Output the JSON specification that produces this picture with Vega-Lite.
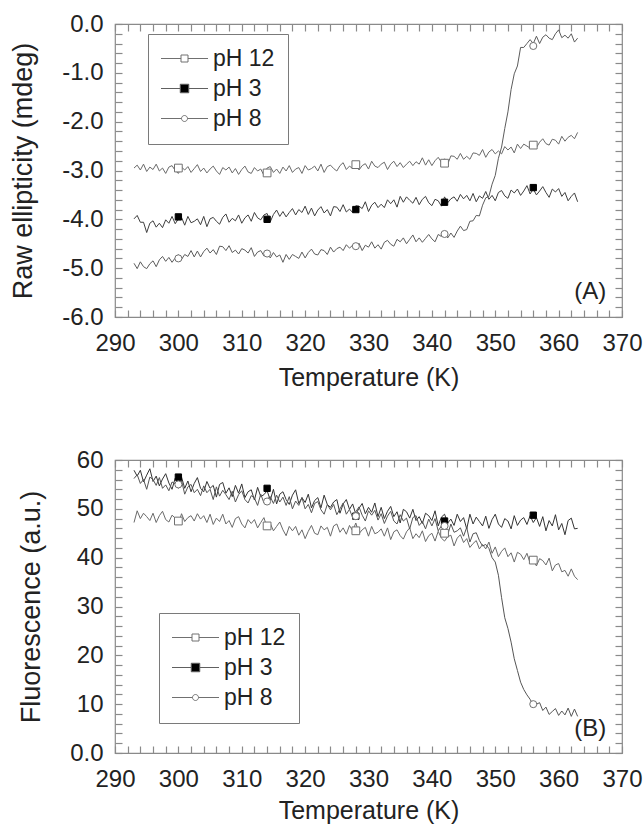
{
"$schema":"https://vega.github.io/schema/vega-lite/v6.json",
"padding":{"left":9,"top":11,"right":2,"bottom":0},
"spacing":56,
"config":{
"font":"Liberation Sans",
"view":{"stroke":"#8a8a8a","strokeWidth":1.2},
"axis":{"grid":false,"domain":false,"labelFont":"Liberation Sans","labelFontSize":24,"labelColor":"#222","titleFont":"Liberation Sans","titleFontSize":25,"titleFontWeight":"normal","titleColor":"#222","tickColor":"#8a8a8a","tickWidth":1.2,"labelOverlap":false,"labelFlush":false},
"axisY":{"titleFontSize":27},
"legend":{"labelFont":"Liberation Sans","labelFontSize":23,"labelColor":"#222","strokeColor":"#7a7a7a","fillColor":"#ffffff","padding":13,"rowPadding":6,"labelOffset":17,"symbolOffset":12}
},
"resolve":{"scale":{"shape":"independent","fill":"independent","stroke":"independent","size":"independent","color":"independent"},"legend":{"shape":"independent","fill":"independent","stroke":"independent"}},
"datasets":{
"A":[
{"s":"pH 12","t":293,"v":-2.95},{"s":"pH 12","t":293.5,"v":-2.89},{"s":"pH 12","t":294,"v":-2.99},{"s":"pH 12","t":294.5,"v":-2.87},{"s":"pH 12","t":295,"v":-3.02},{"s":"pH 12","t":295.5,"v":-2.93},{"s":"pH 12","t":296,"v":-2.98},{"s":"pH 12","t":296.5,"v":-2.87},{"s":"pH 12","t":297,"v":-3.01},{"s":"pH 12","t":297.5,"v":-2.95},
{"s":"pH 12","t":298,"v":-3.06},{"s":"pH 12","t":298.5,"v":-2.93},{"s":"pH 12","t":299,"v":-2.90},{"s":"pH 12","t":299.5,"v":-3.00},{"s":"pH 12","t":300,"v":-3.06},{"s":"pH 12","t":300.5,"v":-2.93},{"s":"pH 12","t":301,"v":-2.99},{"s":"pH 12","t":301.5,"v":-2.92},{"s":"pH 12","t":302,"v":-3.04},{"s":"pH 12","t":302.5,"v":-2.96},
{"s":"pH 12","t":303,"v":-2.88},{"s":"pH 12","t":303.5,"v":-3.02},{"s":"pH 12","t":304,"v":-2.95},{"s":"pH 12","t":304.5,"v":-3.05},{"s":"pH 12","t":305,"v":-2.97},{"s":"pH 12","t":305.5,"v":-2.91},{"s":"pH 12","t":306,"v":-3.01},{"s":"pH 12","t":306.5,"v":-3.08},{"s":"pH 12","t":307,"v":-2.94},{"s":"pH 12","t":307.5,"v":-2.99},
{"s":"pH 12","t":308,"v":-2.93},{"s":"pH 12","t":308.5,"v":-3.05},{"s":"pH 12","t":309,"v":-2.96},{"s":"pH 12","t":309.5,"v":-3.08},{"s":"pH 12","t":310,"v":-2.98},{"s":"pH 12","t":310.5,"v":-2.91},{"s":"pH 12","t":311,"v":-3.03},{"s":"pH 12","t":311.5,"v":-3.06},{"s":"pH 12","t":312,"v":-2.94},{"s":"pH 12","t":312.5,"v":-3.01},
{"s":"pH 12","t":313,"v":-2.97},{"s":"pH 12","t":313.5,"v":-3.10},{"s":"pH 12","t":314,"v":-2.95},{"s":"pH 12","t":314.5,"v":-2.92},{"s":"pH 12","t":315,"v":-3.04},{"s":"pH 12","t":315.5,"v":-2.97},{"s":"pH 12","t":316,"v":-3.06},{"s":"pH 12","t":316.5,"v":-2.93},{"s":"pH 12","t":317,"v":-3.01},{"s":"pH 12","t":317.5,"v":-2.90},
{"s":"pH 12","t":318,"v":-3.04},{"s":"pH 12","t":318.5,"v":-2.97},{"s":"pH 12","t":319,"v":-2.94},{"s":"pH 12","t":319.5,"v":-3.06},{"s":"pH 12","t":320,"v":-2.90},{"s":"pH 12","t":320.5,"v":-2.99},{"s":"pH 12","t":321,"v":-2.96},{"s":"pH 12","t":321.5,"v":-2.91},{"s":"pH 12","t":322,"v":-3.01},{"s":"pH 12","t":322.5,"v":-2.87},
{"s":"pH 12","t":323,"v":-3.04},{"s":"pH 12","t":323.5,"v":-2.92},{"s":"pH 12","t":324,"v":-2.89},{"s":"pH 12","t":324.5,"v":-2.96},{"s":"pH 12","t":325,"v":-3.01},{"s":"pH 12","t":325.5,"v":-2.90},{"s":"pH 12","t":326,"v":-2.84},{"s":"pH 12","t":326.5,"v":-2.98},{"s":"pH 12","t":327,"v":-2.91},{"s":"pH 12","t":327.5,"v":-2.96},
{"s":"pH 12","t":328,"v":-2.85},{"s":"pH 12","t":328.5,"v":-2.99},{"s":"pH 12","t":329,"v":-2.90},{"s":"pH 12","t":329.5,"v":-2.86},{"s":"pH 12","t":330,"v":-2.97},{"s":"pH 12","t":330.5,"v":-2.81},{"s":"pH 12","t":331,"v":-2.91},{"s":"pH 12","t":331.5,"v":-2.94},{"s":"pH 12","t":332,"v":-2.87},{"s":"pH 12","t":332.5,"v":-2.83},
{"s":"pH 12","t":333,"v":-2.98},{"s":"pH 12","t":333.5,"v":-2.87},{"s":"pH 12","t":334,"v":-2.81},{"s":"pH 12","t":334.5,"v":-2.92},{"s":"pH 12","t":335,"v":-2.84},{"s":"pH 12","t":335.5,"v":-2.94},{"s":"pH 12","t":336,"v":-2.87},{"s":"pH 12","t":336.5,"v":-2.81},{"s":"pH 12","t":337,"v":-2.90},{"s":"pH 12","t":337.5,"v":-2.82},
{"s":"pH 12","t":338,"v":-2.87},{"s":"pH 12","t":338.5,"v":-2.74},{"s":"pH 12","t":339,"v":-2.89},{"s":"pH 12","t":339.5,"v":-2.78},{"s":"pH 12","t":340,"v":-2.90},{"s":"pH 12","t":340.5,"v":-2.80},{"s":"pH 12","t":341,"v":-2.73},{"s":"pH 12","t":341.5,"v":-2.83},{"s":"pH 12","t":342,"v":-2.76},{"s":"pH 12","t":342.5,"v":-2.87},
{"s":"pH 12","t":343,"v":-2.70},{"s":"pH 12","t":343.5,"v":-2.71},{"s":"pH 12","t":344,"v":-2.77},{"s":"pH 12","t":344.5,"v":-2.65},{"s":"pH 12","t":345,"v":-2.77},{"s":"pH 12","t":345.5,"v":-2.71},{"s":"pH 12","t":346,"v":-2.77},{"s":"pH 12","t":346.5,"v":-2.64},{"s":"pH 12","t":347,"v":-2.65},{"s":"pH 12","t":347.5,"v":-2.69},
{"s":"pH 12","t":348,"v":-2.57},{"s":"pH 12","t":348.5,"v":-2.73},{"s":"pH 12","t":349,"v":-2.62},{"s":"pH 12","t":349.5,"v":-2.57},{"s":"pH 12","t":350,"v":-2.66},{"s":"pH 12","t":350.5,"v":-2.60},{"s":"pH 12","t":351,"v":-2.66},{"s":"pH 12","t":351.5,"v":-2.51},{"s":"pH 12","t":352,"v":-2.58},{"s":"pH 12","t":352.5,"v":-2.52},
{"s":"pH 12","t":353,"v":-2.64},{"s":"pH 12","t":353.5,"v":-2.46},{"s":"pH 12","t":354,"v":-2.55},{"s":"pH 12","t":354.5,"v":-2.46},{"s":"pH 12","t":355,"v":-2.50},{"s":"pH 12","t":355.5,"v":-2.54},{"s":"pH 12","t":356,"v":-2.42},{"s":"pH 12","t":356.5,"v":-2.53},{"s":"pH 12","t":357,"v":-2.42},{"s":"pH 12","t":357.5,"v":-2.35},
{"s":"pH 12","t":358,"v":-2.45},{"s":"pH 12","t":358.5,"v":-2.48},{"s":"pH 12","t":359,"v":-2.36},{"s":"pH 12","t":359.5,"v":-2.38},{"s":"pH 12","t":360,"v":-2.46},{"s":"pH 12","t":360.5,"v":-2.30},{"s":"pH 12","t":361,"v":-2.40},{"s":"pH 12","t":361.5,"v":-2.32},{"s":"pH 12","t":362,"v":-2.28},{"s":"pH 12","t":362.5,"v":-2.35},
{"s":"pH 12","t":363,"v":-2.22},
{"s":"pH 3","t":293,"v":-3.99},{"s":"pH 3","t":293.5,"v":-3.92},{"s":"pH 3","t":294,"v":-4.06},{"s":"pH 3","t":294.5,"v":-4.06},{"s":"pH 3","t":295,"v":-4.27},{"s":"pH 3","t":295.5,"v":-4.08},{"s":"pH 3","t":296,"v":-4.03},{"s":"pH 3","t":296.5,"v":-4.16},{"s":"pH 3","t":297,"v":-4.08},{"s":"pH 3","t":297.5,"v":-4.17},
{"s":"pH 3","t":298,"v":-4.01},{"s":"pH 3","t":298.5,"v":-4.08},{"s":"pH 3","t":299,"v":-3.94},{"s":"pH 3","t":299.5,"v":-4.09},{"s":"pH 3","t":300,"v":-3.99},{"s":"pH 3","t":300.5,"v":-3.96},{"s":"pH 3","t":301,"v":-4.12},{"s":"pH 3","t":301.5,"v":-3.94},{"s":"pH 3","t":302,"v":-4.07},{"s":"pH 3","t":302.5,"v":-4.04},
{"s":"pH 3","t":303,"v":-3.99},{"s":"pH 3","t":303.5,"v":-4.11},{"s":"pH 3","t":304,"v":-3.94},{"s":"pH 3","t":304.5,"v":-4.15},{"s":"pH 3","t":305,"v":-3.99},{"s":"pH 3","t":305.5,"v":-3.96},{"s":"pH 3","t":306,"v":-4.04},{"s":"pH 3","t":306.5,"v":-4.10},{"s":"pH 3","t":307,"v":-3.96},{"s":"pH 3","t":307.5,"v":-3.89},
{"s":"pH 3","t":308,"v":-4.06},{"s":"pH 3","t":308.5,"v":-3.98},{"s":"pH 3","t":309,"v":-4.03},{"s":"pH 3","t":309.5,"v":-3.91},{"s":"pH 3","t":310,"v":-4.08},{"s":"pH 3","t":310.5,"v":-3.97},{"s":"pH 3","t":311,"v":-3.91},{"s":"pH 3","t":311.5,"v":-4.04},{"s":"pH 3","t":312,"v":-3.86},{"s":"pH 3","t":312.5,"v":-3.97},
{"s":"pH 3","t":313,"v":-4.01},{"s":"pH 3","t":313.5,"v":-3.91},{"s":"pH 3","t":314,"v":-3.88},{"s":"pH 3","t":314.5,"v":-4.05},{"s":"pH 3","t":315,"v":-3.90},{"s":"pH 3","t":315.5,"v":-3.81},{"s":"pH 3","t":316,"v":-3.94},{"s":"pH 3","t":316.5,"v":-3.84},{"s":"pH 3","t":317,"v":-3.95},{"s":"pH 3","t":317.5,"v":-3.86},
{"s":"pH 3","t":318,"v":-3.78},{"s":"pH 3","t":318.5,"v":-3.91},{"s":"pH 3","t":319,"v":-3.80},{"s":"pH 3","t":319.5,"v":-3.86},{"s":"pH 3","t":320,"v":-3.73},{"s":"pH 3","t":320.5,"v":-3.90},{"s":"pH 3","t":321,"v":-3.77},{"s":"pH 3","t":321.5,"v":-3.93},{"s":"pH 3","t":322,"v":-3.81},{"s":"pH 3","t":322.5,"v":-3.74},
{"s":"pH 3","t":323,"v":-3.87},{"s":"pH 3","t":323.5,"v":-3.80},{"s":"pH 3","t":324,"v":-3.93},{"s":"pH 3","t":324.5,"v":-3.74},{"s":"pH 3","t":325,"v":-3.75},{"s":"pH 3","t":325.5,"v":-3.84},{"s":"pH 3","t":326,"v":-3.70},{"s":"pH 3","t":326.5,"v":-3.85},{"s":"pH 3","t":327,"v":-3.79},{"s":"pH 3","t":327.5,"v":-3.86},
{"s":"pH 3","t":328,"v":-3.72},{"s":"pH 3","t":328.5,"v":-3.73},{"s":"pH 3","t":329,"v":-3.78},{"s":"pH 3","t":329.5,"v":-3.64},{"s":"pH 3","t":330,"v":-3.84},{"s":"pH 3","t":330.5,"v":-3.71},{"s":"pH 3","t":331,"v":-3.65},{"s":"pH 3","t":331.5,"v":-3.76},{"s":"pH 3","t":332,"v":-3.69},{"s":"pH 3","t":332.5,"v":-3.76},
{"s":"pH 3","t":333,"v":-3.60},{"s":"pH 3","t":333.5,"v":-3.68},{"s":"pH 3","t":334,"v":-3.60},{"s":"pH 3","t":334.5,"v":-3.75},{"s":"pH 3","t":335,"v":-3.53},{"s":"pH 3","t":335.5,"v":-3.65},{"s":"pH 3","t":336,"v":-3.54},{"s":"pH 3","t":336.5,"v":-3.61},{"s":"pH 3","t":337,"v":-3.67},{"s":"pH 3","t":337.5,"v":-3.55},
{"s":"pH 3","t":338,"v":-3.70},{"s":"pH 3","t":338.5,"v":-3.59},{"s":"pH 3","t":339,"v":-3.53},{"s":"pH 3","t":339.5,"v":-3.66},{"s":"pH 3","t":340,"v":-3.72},{"s":"pH 3","t":340.5,"v":-3.59},{"s":"pH 3","t":341,"v":-3.62},{"s":"pH 3","t":341.5,"v":-3.73},{"s":"pH 3","t":342,"v":-3.54},{"s":"pH 3","t":342.5,"v":-3.66},
{"s":"pH 3","t":343,"v":-3.58},{"s":"pH 3","t":343.5,"v":-3.54},{"s":"pH 3","t":344,"v":-3.63},{"s":"pH 3","t":344.5,"v":-3.49},{"s":"pH 3","t":345,"v":-3.58},{"s":"pH 3","t":345.5,"v":-3.51},{"s":"pH 3","t":346,"v":-3.62},{"s":"pH 3","t":346.5,"v":-3.47},{"s":"pH 3","t":347,"v":-3.64},{"s":"pH 3","t":347.5,"v":-3.52},
{"s":"pH 3","t":348,"v":-3.57},{"s":"pH 3","t":348.5,"v":-3.43},{"s":"pH 3","t":349,"v":-3.59},{"s":"pH 3","t":349.5,"v":-3.51},{"s":"pH 3","t":350,"v":-3.62},{"s":"pH 3","t":350.5,"v":-3.45},{"s":"pH 3","t":351,"v":-3.41},{"s":"pH 3","t":351.5,"v":-3.52},{"s":"pH 3","t":352,"v":-3.57},{"s":"pH 3","t":352.5,"v":-3.40},
{"s":"pH 3","t":353,"v":-3.46},{"s":"pH 3","t":353.5,"v":-3.38},{"s":"pH 3","t":354,"v":-3.51},{"s":"pH 3","t":354.5,"v":-3.42},{"s":"pH 3","t":355,"v":-3.31},{"s":"pH 3","t":355.5,"v":-3.48},{"s":"pH 3","t":356,"v":-3.38},{"s":"pH 3","t":356.5,"v":-3.50},{"s":"pH 3","t":357,"v":-3.42},{"s":"pH 3","t":357.5,"v":-3.33},
{"s":"pH 3","t":358,"v":-3.45},{"s":"pH 3","t":358.5,"v":-3.55},{"s":"pH 3","t":359,"v":-3.38},{"s":"pH 3","t":359.5,"v":-3.44},{"s":"pH 3","t":360,"v":-3.37},{"s":"pH 3","t":360.5,"v":-3.53},{"s":"pH 3","t":361,"v":-3.45},{"s":"pH 3","t":361.5,"v":-3.62},{"s":"pH 3","t":362,"v":-3.53},{"s":"pH 3","t":362.5,"v":-3.46},
{"s":"pH 3","t":363,"v":-3.64},
{"s":"pH 8","t":293,"v":-4.90},{"s":"pH 8","t":293.5,"v":-5.01},{"s":"pH 8","t":294,"v":-4.87},{"s":"pH 8","t":294.5,"v":-4.97},{"s":"pH 8","t":295,"v":-5.01},{"s":"pH 8","t":295.5,"v":-4.91},{"s":"pH 8","t":296,"v":-4.85},{"s":"pH 8","t":296.5,"v":-4.97},{"s":"pH 8","t":297,"v":-4.83},{"s":"pH 8","t":297.5,"v":-4.76},
{"s":"pH 8","t":298,"v":-4.86},{"s":"pH 8","t":298.5,"v":-4.78},{"s":"pH 8","t":299,"v":-4.88},{"s":"pH 8","t":299.5,"v":-4.79},{"s":"pH 8","t":300,"v":-4.72},{"s":"pH 8","t":300.5,"v":-4.82},{"s":"pH 8","t":301,"v":-4.72},{"s":"pH 8","t":301.5,"v":-4.76},{"s":"pH 8","t":302,"v":-4.64},{"s":"pH 8","t":302.5,"v":-4.77},
{"s":"pH 8","t":303,"v":-4.65},{"s":"pH 8","t":303.5,"v":-4.77},{"s":"pH 8","t":304,"v":-4.66},{"s":"pH 8","t":304.5,"v":-4.59},{"s":"pH 8","t":305,"v":-4.69},{"s":"pH 8","t":305.5,"v":-4.62},{"s":"pH 8","t":306,"v":-4.72},{"s":"pH 8","t":306.5,"v":-4.55},{"s":"pH 8","t":307,"v":-4.56},{"s":"pH 8","t":307.5,"v":-4.64},
{"s":"pH 8","t":308,"v":-4.54},{"s":"pH 8","t":308.5,"v":-4.68},{"s":"pH 8","t":309,"v":-4.63},{"s":"pH 8","t":309.5,"v":-4.71},{"s":"pH 8","t":310,"v":-4.60},{"s":"pH 8","t":310.5,"v":-4.63},{"s":"pH 8","t":311,"v":-4.69},{"s":"pH 8","t":311.5,"v":-4.58},{"s":"pH 8","t":312,"v":-4.76},{"s":"pH 8","t":312.5,"v":-4.67},
{"s":"pH 8","t":313,"v":-4.64},{"s":"pH 8","t":313.5,"v":-4.75},{"s":"pH 8","t":314,"v":-4.71},{"s":"pH 8","t":314.5,"v":-4.79},{"s":"pH 8","t":315,"v":-4.68},{"s":"pH 8","t":315.5,"v":-4.77},{"s":"pH 8","t":316,"v":-4.73},{"s":"pH 8","t":316.5,"v":-4.88},{"s":"pH 8","t":317,"v":-4.72},{"s":"pH 8","t":317.5,"v":-4.82},
{"s":"pH 8","t":318,"v":-4.72},{"s":"pH 8","t":318.5,"v":-4.76},{"s":"pH 8","t":319,"v":-4.80},{"s":"pH 8","t":319.5,"v":-4.67},{"s":"pH 8","t":320,"v":-4.79},{"s":"pH 8","t":320.5,"v":-4.68},{"s":"pH 8","t":321,"v":-4.61},{"s":"pH 8","t":321.5,"v":-4.71},{"s":"pH 8","t":322,"v":-4.73},{"s":"pH 8","t":322.5,"v":-4.62},
{"s":"pH 8","t":323,"v":-4.64},{"s":"pH 8","t":323.5,"v":-4.72},{"s":"pH 8","t":324,"v":-4.57},{"s":"pH 8","t":324.5,"v":-4.67},{"s":"pH 8","t":325,"v":-4.60},{"s":"pH 8","t":325.5,"v":-4.57},{"s":"pH 8","t":326,"v":-4.64},{"s":"pH 8","t":326.5,"v":-4.52},{"s":"pH 8","t":327,"v":-4.59},{"s":"pH 8","t":327.5,"v":-4.53},
{"s":"pH 8","t":328,"v":-4.62},{"s":"pH 8","t":328.5,"v":-4.49},{"s":"pH 8","t":329,"v":-4.64},{"s":"pH 8","t":329.5,"v":-4.53},{"s":"pH 8","t":330,"v":-4.57},{"s":"pH 8","t":330.5,"v":-4.46},{"s":"pH 8","t":331,"v":-4.59},{"s":"pH 8","t":331.5,"v":-4.52},{"s":"pH 8","t":332,"v":-4.61},{"s":"pH 8","t":332.5,"v":-4.47},
{"s":"pH 8","t":333,"v":-4.43},{"s":"pH 8","t":333.5,"v":-4.51},{"s":"pH 8","t":334,"v":-4.55},{"s":"pH 8","t":334.5,"v":-4.41},{"s":"pH 8","t":335,"v":-4.46},{"s":"pH 8","t":335.5,"v":-4.38},{"s":"pH 8","t":336,"v":-4.50},{"s":"pH 8","t":336.5,"v":-4.41},{"s":"pH 8","t":337,"v":-4.32},{"s":"pH 8","t":337.5,"v":-4.46},
{"s":"pH 8","t":338,"v":-4.38},{"s":"pH 8","t":338.5,"v":-4.47},{"s":"pH 8","t":339,"v":-4.39},{"s":"pH 8","t":339.5,"v":-4.31},{"s":"pH 8","t":340,"v":-4.40},{"s":"pH 8","t":340.5,"v":-4.46},{"s":"pH 8","t":341,"v":-4.31},{"s":"pH 8","t":341.5,"v":-4.35},{"s":"pH 8","t":342,"v":-4.27},{"s":"pH 8","t":342.5,"v":-4.38},
{"s":"pH 8","t":343,"v":-4.28},{"s":"pH 8","t":343.5,"v":-4.37},{"s":"pH 8","t":344,"v":-4.24},{"s":"pH 8","t":344.5,"v":-4.14},{"s":"pH 8","t":345,"v":-4.23},{"s":"pH 8","t":345.5,"v":-4.21},{"s":"pH 8","t":346,"v":-4.04},{"s":"pH 8","t":346.5,"v":-4.03},{"s":"pH 8","t":347,"v":-3.92},{"s":"pH 8","t":347.5,"v":-3.93},
{"s":"pH 8","t":348,"v":-3.71},{"s":"pH 8","t":348.5,"v":-3.56},{"s":"pH 8","t":349,"v":-3.53},{"s":"pH 8","t":349.5,"v":-3.28},{"s":"pH 8","t":350,"v":-3.10},{"s":"pH 8","t":350.5,"v":-2.75},{"s":"pH 8","t":351,"v":-2.52},{"s":"pH 8","t":351.5,"v":-2.14},{"s":"pH 8","t":352,"v":-1.80},{"s":"pH 8","t":352.5,"v":-1.34},
{"s":"pH 8","t":353,"v":-1.02},{"s":"pH 8","t":353.5,"v":-0.86},{"s":"pH 8","t":354,"v":-0.48},{"s":"pH 8","t":354.5,"v":-0.48},{"s":"pH 8","t":355,"v":-0.40},{"s":"pH 8","t":355.5,"v":-0.32},{"s":"pH 8","t":356,"v":-0.40},{"s":"pH 8","t":356.5,"v":-0.25},{"s":"pH 8","t":357,"v":-0.40},{"s":"pH 8","t":357.5,"v":-0.27},
{"s":"pH 8","t":358,"v":-0.22},{"s":"pH 8","t":358.5,"v":-0.29},{"s":"pH 8","t":359,"v":-0.32},{"s":"pH 8","t":359.5,"v":-0.20},{"s":"pH 8","t":360,"v":-0.12},{"s":"pH 8","t":360.5,"v":-0.28},{"s":"pH 8","t":361,"v":-0.23},{"s":"pH 8","t":361.5,"v":-0.29},{"s":"pH 8","t":362,"v":-0.20},{"s":"pH 8","t":362.5,"v":-0.37},
{"s":"pH 8","t":363,"v":-0.29}
],
"B":[
{"s":"pH 12","t":293,"v":47.2},{"s":"pH 12","t":293.5,"v":49.6},{"s":"pH 12","t":294,"v":48.0},{"s":"pH 12","t":294.5,"v":49.1},{"s":"pH 12","t":295,"v":48.4},{"s":"pH 12","t":295.5,"v":47.6},{"s":"pH 12","t":296,"v":49.1},{"s":"pH 12","t":296.5,"v":47.2},{"s":"pH 12","t":297,"v":48.6},{"s":"pH 12","t":297.5,"v":49.5},
{"s":"pH 12","t":298,"v":47.8},{"s":"pH 12","t":298.5,"v":47.3},{"s":"pH 12","t":299,"v":48.7},{"s":"pH 12","t":299.5,"v":48.1},{"s":"pH 12","t":300,"v":46.9},{"s":"pH 12","t":300.5,"v":49.0},{"s":"pH 12","t":301,"v":47.4},{"s":"pH 12","t":301.5,"v":48.2},{"s":"pH 12","t":302,"v":48.6},{"s":"pH 12","t":302.5,"v":47.5},
{"s":"pH 12","t":303,"v":49.0},{"s":"pH 12","t":303.5,"v":47.9},{"s":"pH 12","t":304,"v":48.6},{"s":"pH 12","t":304.5,"v":47.2},{"s":"pH 12","t":305,"v":48.9},{"s":"pH 12","t":305.5,"v":46.8},{"s":"pH 12","t":306,"v":48.1},{"s":"pH 12","t":306.5,"v":47.4},{"s":"pH 12","t":307,"v":48.9},{"s":"pH 12","t":307.5,"v":46.9},
{"s":"pH 12","t":308,"v":47.6},{"s":"pH 12","t":308.5,"v":46.2},{"s":"pH 12","t":309,"v":48.0},{"s":"pH 12","t":309.5,"v":48.4},{"s":"pH 12","t":310,"v":46.9},{"s":"pH 12","t":310.5,"v":46.1},{"s":"pH 12","t":311,"v":47.8},{"s":"pH 12","t":311.5,"v":47.0},{"s":"pH 12","t":312,"v":47.8},{"s":"pH 12","t":312.5,"v":46.1},
{"s":"pH 12","t":313,"v":47.2},{"s":"pH 12","t":313.5,"v":48.2},{"s":"pH 12","t":314,"v":46.1},{"s":"pH 12","t":314.5,"v":47.0},{"s":"pH 12","t":315,"v":45.5},{"s":"pH 12","t":315.5,"v":46.4},{"s":"pH 12","t":316,"v":47.3},{"s":"pH 12","t":316.5,"v":45.7},{"s":"pH 12","t":317,"v":44.5},{"s":"pH 12","t":317.5,"v":46.4},
{"s":"pH 12","t":318,"v":45.5},{"s":"pH 12","t":318.5,"v":46.4},{"s":"pH 12","t":319,"v":44.6},{"s":"pH 12","t":319.5,"v":45.7},{"s":"pH 12","t":320,"v":43.9},{"s":"pH 12","t":320.5,"v":45.4},{"s":"pH 12","t":321,"v":46.6},{"s":"pH 12","t":321.5,"v":45.0},{"s":"pH 12","t":322,"v":44.7},{"s":"pH 12","t":322.5,"v":46.5},
{"s":"pH 12","t":323,"v":45.7},{"s":"pH 12","t":323.5,"v":46.2},{"s":"pH 12","t":324,"v":44.4},{"s":"pH 12","t":324.5,"v":46.5},{"s":"pH 12","t":325,"v":46.9},{"s":"pH 12","t":325.5,"v":45.2},{"s":"pH 12","t":326,"v":46.1},{"s":"pH 12","t":326.5,"v":44.8},{"s":"pH 12","t":327,"v":46.6},{"s":"pH 12","t":327.5,"v":45.5},
{"s":"pH 12","t":328,"v":47.1},{"s":"pH 12","t":328.5,"v":44.9},{"s":"pH 12","t":329,"v":45.7},{"s":"pH 12","t":329.5,"v":46.2},{"s":"pH 12","t":330,"v":44.4},{"s":"pH 12","t":330.5,"v":46.4},{"s":"pH 12","t":331,"v":44.9},{"s":"pH 12","t":331.5,"v":45.2},{"s":"pH 12","t":332,"v":45.9},{"s":"pH 12","t":332.5,"v":44.4},
{"s":"pH 12","t":333,"v":46.1},{"s":"pH 12","t":333.5,"v":43.7},{"s":"pH 12","t":334,"v":45.3},{"s":"pH 12","t":334.5,"v":45.7},{"s":"pH 12","t":335,"v":44.5},{"s":"pH 12","t":335.5,"v":43.8},{"s":"pH 12","t":336,"v":45.3},{"s":"pH 12","t":336.5,"v":46.1},{"s":"pH 12","t":337,"v":43.9},{"s":"pH 12","t":337.5,"v":44.9},
{"s":"pH 12","t":338,"v":44.1},{"s":"pH 12","t":338.5,"v":45.5},{"s":"pH 12","t":339,"v":43.3},{"s":"pH 12","t":339.5,"v":44.5},{"s":"pH 12","t":340,"v":45.0},{"s":"pH 12","t":340.5,"v":43.4},{"s":"pH 12","t":341,"v":45.4},{"s":"pH 12","t":341.5,"v":44.0},{"s":"pH 12","t":342,"v":43.4},{"s":"pH 12","t":342.5,"v":44.3},
{"s":"pH 12","t":343,"v":44.6},{"s":"pH 12","t":343.5,"v":42.4},{"s":"pH 12","t":344,"v":44.0},{"s":"pH 12","t":344.5,"v":44.7},{"s":"pH 12","t":345,"v":43.1},{"s":"pH 12","t":345.5,"v":43.9},{"s":"pH 12","t":346,"v":42.1},{"s":"pH 12","t":346.5,"v":42.9},{"s":"pH 12","t":347,"v":43.5},{"s":"pH 12","t":347.5,"v":41.8},
{"s":"pH 12","t":348,"v":42.7},{"s":"pH 12","t":348.5,"v":41.8},{"s":"pH 12","t":349,"v":43.2},{"s":"pH 12","t":349.5,"v":40.9},{"s":"pH 12","t":350,"v":42.2},{"s":"pH 12","t":350.5,"v":40.2},{"s":"pH 12","t":351,"v":41.3},{"s":"pH 12","t":351.5,"v":42.0},{"s":"pH 12","t":352,"v":40.2},{"s":"pH 12","t":352.5,"v":41.0},
{"s":"pH 12","t":353,"v":39.1},{"s":"pH 12","t":353.5,"v":41.1},{"s":"pH 12","t":354,"v":40.7},{"s":"pH 12","t":354.5,"v":39.6},{"s":"pH 12","t":355,"v":40.9},{"s":"pH 12","t":355.5,"v":38.9},{"s":"pH 12","t":356,"v":39.5},{"s":"pH 12","t":356.5,"v":38.3},{"s":"pH 12","t":357,"v":39.8},{"s":"pH 12","t":357.5,"v":39.4},
{"s":"pH 12","t":358,"v":38.5},{"s":"pH 12","t":358.5,"v":39.9},{"s":"pH 12","t":359,"v":37.3},{"s":"pH 12","t":359.5,"v":38.5},{"s":"pH 12","t":360,"v":38.8},{"s":"pH 12","t":360.5,"v":37.1},{"s":"pH 12","t":361,"v":37.4},{"s":"pH 12","t":361.5,"v":36.2},{"s":"pH 12","t":362,"v":37.7},{"s":"pH 12","t":362.5,"v":36.2},
{"s":"pH 12","t":363,"v":35.5},
{"s":"pH 3","t":293,"v":57.9},{"s":"pH 3","t":293.5,"v":56.7},{"s":"pH 3","t":294,"v":57.9},{"s":"pH 3","t":294.5,"v":55.5},{"s":"pH 3","t":295,"v":56.9},{"s":"pH 3","t":295.5,"v":58.2},{"s":"pH 3","t":296,"v":55.6},{"s":"pH 3","t":296.5,"v":56.7},{"s":"pH 3","t":297,"v":54.7},{"s":"pH 3","t":297.5,"v":56.1},
{"s":"pH 3","t":298,"v":57.2},{"s":"pH 3","t":298.5,"v":55.3},{"s":"pH 3","t":299,"v":54.0},{"s":"pH 3","t":299.5,"v":56.3},{"s":"pH 3","t":300,"v":55.3},{"s":"pH 3","t":300.5,"v":56.5},{"s":"pH 3","t":301,"v":54.2},{"s":"pH 3","t":301.5,"v":55.7},{"s":"pH 3","t":302,"v":53.5},{"s":"pH 3","t":302.5,"v":55.2},
{"s":"pH 3","t":303,"v":56.4},{"s":"pH 3","t":303.5,"v":54.2},{"s":"pH 3","t":304,"v":53.5},{"s":"pH 3","t":304.5,"v":55.6},{"s":"pH 3","t":305,"v":54.2},{"s":"pH 3","t":305.5,"v":54.8},{"s":"pH 3","t":306,"v":52.4},{"s":"pH 3","t":306.5,"v":55.0},{"s":"pH 3","t":307,"v":55.4},{"s":"pH 3","t":307.5,"v":53.2},
{"s":"pH 3","t":308,"v":54.3},{"s":"pH 3","t":308.5,"v":52.5},{"s":"pH 3","t":309,"v":54.8},{"s":"pH 3","t":309.5,"v":53.2},{"s":"pH 3","t":310,"v":55.1},{"s":"pH 3","t":310.5,"v":52.3},{"s":"pH 3","t":311,"v":53.5},{"s":"pH 3","t":311.5,"v":53.9},{"s":"pH 3","t":312,"v":51.8},{"s":"pH 3","t":312.5,"v":54.4},
{"s":"pH 3","t":313,"v":52.5},{"s":"pH 3","t":313.5,"v":52.9},{"s":"pH 3","t":314,"v":53.7},{"s":"pH 3","t":314.5,"v":51.8},{"s":"pH 3","t":315,"v":54.0},{"s":"pH 3","t":315.5,"v":51.0},{"s":"pH 3","t":316,"v":53.0},{"s":"pH 3","t":316.5,"v":53.5},{"s":"pH 3","t":317,"v":51.9},{"s":"pH 3","t":317.5,"v":50.9},
{"s":"pH 3","t":318,"v":52.8},{"s":"pH 3","t":318.5,"v":53.9},{"s":"pH 3","t":319,"v":51.1},{"s":"pH 3","t":319.5,"v":52.3},{"s":"pH 3","t":320,"v":51.3},{"s":"pH 3","t":320.5,"v":53.0},{"s":"pH 3","t":321,"v":50.2},{"s":"pH 3","t":321.5,"v":51.7},{"s":"pH 3","t":322,"v":52.3},{"s":"pH 3","t":322.5,"v":50.2},
{"s":"pH 3","t":323,"v":52.8},{"s":"pH 3","t":323.5,"v":50.9},{"s":"pH 3","t":324,"v":50.3},{"s":"pH 3","t":324.5,"v":51.4},{"s":"pH 3","t":325,"v":51.9},{"s":"pH 3","t":325.5,"v":49.1},{"s":"pH 3","t":326,"v":51.0},{"s":"pH 3","t":326.5,"v":51.9},{"s":"pH 3","t":327,"v":49.9},{"s":"pH 3","t":327.5,"v":51.0},
{"s":"pH 3","t":328,"v":48.9},{"s":"pH 3","t":328.5,"v":50.1},{"s":"pH 3","t":329,"v":51.1},{"s":"pH 3","t":329.5,"v":49.0},{"s":"pH 3","t":330,"v":50.3},{"s":"pH 3","t":330.5,"v":49.3},{"s":"pH 3","t":331,"v":51.2},{"s":"pH 3","t":331.5,"v":48.4},{"s":"pH 3","t":332,"v":50.3},{"s":"pH 3","t":332.5,"v":48.0},
{"s":"pH 3","t":333,"v":49.5},{"s":"pH 3","t":333.5,"v":50.5},{"s":"pH 3","t":334,"v":48.4},{"s":"pH 3","t":334.5,"v":49.4},{"s":"pH 3","t":335,"v":47.1},{"s":"pH 3","t":335.5,"v":49.9},{"s":"pH 3","t":336,"v":49.4},{"s":"pH 3","t":336.5,"v":48.1},{"s":"pH 3","t":337,"v":49.9},{"s":"pH 3","t":337.5,"v":47.6},
{"s":"pH 3","t":338,"v":48.4},{"s":"pH 3","t":338.5,"v":47.0},{"s":"pH 3","t":339,"v":49.1},{"s":"pH 3","t":339.5,"v":48.6},{"s":"pH 3","t":340,"v":47.6},{"s":"pH 3","t":340.5,"v":49.6},{"s":"pH 3","t":341,"v":46.5},{"s":"pH 3","t":341.5,"v":48.3},{"s":"pH 3","t":342,"v":48.9},{"s":"pH 3","t":342.5,"v":47.1},
{"s":"pH 3","t":343,"v":47.9},{"s":"pH 3","t":343.5,"v":46.6},{"s":"pH 3","t":344,"v":48.9},{"s":"pH 3","t":344.5,"v":47.4},{"s":"pH 3","t":345,"v":48.2},{"s":"pH 3","t":345.5,"v":45.9},{"s":"pH 3","t":346,"v":48.9},{"s":"pH 3","t":346.5,"v":46.9},{"s":"pH 3","t":347,"v":48.3},{"s":"pH 3","t":347.5,"v":47.4},
{"s":"pH 3","t":348,"v":46.5},{"s":"pH 3","t":348.5,"v":48.5},{"s":"pH 3","t":349,"v":46.0},{"s":"pH 3","t":349.5,"v":47.8},{"s":"pH 3","t":350,"v":48.9},{"s":"pH 3","t":350.5,"v":46.9},{"s":"pH 3","t":351,"v":46.2},{"s":"pH 3","t":351.5,"v":48.0},{"s":"pH 3","t":352,"v":47.5},{"s":"pH 3","t":352.5,"v":45.9},
{"s":"pH 3","t":353,"v":48.6},{"s":"pH 3","t":353.5,"v":46.6},{"s":"pH 3","t":354,"v":47.7},{"s":"pH 3","t":354.5,"v":48.2},{"s":"pH 3","t":355,"v":46.8},{"s":"pH 3","t":355.5,"v":48.6},{"s":"pH 3","t":356,"v":47.2},{"s":"pH 3","t":356.5,"v":48.2},{"s":"pH 3","t":357,"v":46.4},{"s":"pH 3","t":357.5,"v":48.4},
{"s":"pH 3","t":358,"v":45.5},{"s":"pH 3","t":358.5,"v":47.6},{"s":"pH 3","t":359,"v":46.5},{"s":"pH 3","t":359.5,"v":48.8},{"s":"pH 3","t":360,"v":45.7},{"s":"pH 3","t":360.5,"v":47.0},{"s":"pH 3","t":361,"v":44.7},{"s":"pH 3","t":361.5,"v":47.6},{"s":"pH 3","t":362,"v":48.1},{"s":"pH 3","t":362.5,"v":45.9},
{"s":"pH 3","t":363,"v":46.0},
{"s":"pH 8","t":293,"v":56.2},{"s":"pH 8","t":293.5,"v":57.0},{"s":"pH 8","t":294,"v":55.2},{"s":"pH 8","t":294.5,"v":56.0},{"s":"pH 8","t":295,"v":54.0},{"s":"pH 8","t":295.5,"v":56.5},{"s":"pH 8","t":296,"v":56.0},{"s":"pH 8","t":296.5,"v":54.8},{"s":"pH 8","t":297,"v":56.4},{"s":"pH 8","t":297.5,"v":54.2},
{"s":"pH 8","t":298,"v":54.9},{"s":"pH 8","t":298.5,"v":53.7},{"s":"pH 8","t":299,"v":55.5},{"s":"pH 8","t":299.5,"v":55.1},{"s":"pH 8","t":300,"v":54.2},{"s":"pH 8","t":300.5,"v":55.8},{"s":"pH 8","t":301,"v":53.0},{"s":"pH 8","t":301.5,"v":54.5},{"s":"pH 8","t":302,"v":55.0},{"s":"pH 8","t":302.5,"v":53.3},
{"s":"pH 8","t":303,"v":54.0},{"s":"pH 8","t":303.5,"v":52.7},{"s":"pH 8","t":304,"v":54.7},{"s":"pH 8","t":304.5,"v":53.3},{"s":"pH 8","t":305,"v":54.0},{"s":"pH 8","t":305.5,"v":51.9},{"s":"pH 8","t":306,"v":54.5},{"s":"pH 8","t":306.5,"v":52.6},{"s":"pH 8","t":307,"v":53.8},{"s":"pH 8","t":307.5,"v":52.9},
{"s":"pH 8","t":308,"v":51.9},{"s":"pH 8","t":308.5,"v":53.6},{"s":"pH 8","t":309,"v":51.4},{"s":"pH 8","t":309.5,"v":52.9},{"s":"pH 8","t":310,"v":53.7},{"s":"pH 8","t":310.5,"v":51.9},{"s":"pH 8","t":311,"v":51.2},{"s":"pH 8","t":311.5,"v":52.7},{"s":"pH 8","t":312,"v":52.2},{"s":"pH 8","t":312.5,"v":50.7},
{"s":"pH 8","t":313,"v":53.0},{"s":"pH 8","t":313.5,"v":51.2},{"s":"pH 8","t":314,"v":52.0},{"s":"pH 8","t":314.5,"v":52.5},{"s":"pH 8","t":315,"v":51.1},{"s":"pH 8","t":315.5,"v":52.8},{"s":"pH 8","t":316,"v":51.4},{"s":"pH 8","t":316.5,"v":52.4},{"s":"pH 8","t":317,"v":50.7},{"s":"pH 8","t":317.5,"v":52.5},
{"s":"pH 8","t":318,"v":50.0},{"s":"pH 8","t":318.5,"v":51.6},{"s":"pH 8","t":319,"v":50.7},{"s":"pH 8","t":319.5,"v":52.3},{"s":"pH 8","t":320,"v":50.0},{"s":"pH 8","t":320.5,"v":50.9},{"s":"pH 8","t":321,"v":49.2},{"s":"pH 8","t":321.5,"v":51.1},{"s":"pH 8","t":322,"v":51.5},{"s":"pH 8","t":322.5,"v":49.8},
{"s":"pH 8","t":323,"v":48.9},{"s":"pH 8","t":323.5,"v":50.9},{"s":"pH 8","t":324,"v":49.8},{"s":"pH 8","t":324.5,"v":50.9},{"s":"pH 8","t":325,"v":48.8},{"s":"pH 8","t":325.5,"v":50.0},{"s":"pH 8","t":326,"v":51.2},{"s":"pH 8","t":326.5,"v":48.9},{"s":"pH 8","t":327,"v":49.9},{"s":"pH 8","t":327.5,"v":48.2},
{"s":"pH 8","t":328,"v":49.4},{"s":"pH 8","t":328.5,"v":50.4},{"s":"pH 8","t":329,"v":48.7},{"s":"pH 8","t":329.5,"v":47.5},{"s":"pH 8","t":330,"v":49.6},{"s":"pH 8","t":330.5,"v":48.7},{"s":"pH 8","t":331,"v":49.7},{"s":"pH 8","t":331.5,"v":47.7},{"s":"pH 8","t":332,"v":49.0},{"s":"pH 8","t":332.5,"v":47.0},
{"s":"pH 8","t":333,"v":48.5},{"s":"pH 8","t":333.5,"v":49.5},{"s":"pH 8","t":334,"v":47.5},{"s":"pH 8","t":334.5,"v":46.9},{"s":"pH 8","t":335,"v":48.8},{"s":"pH 8","t":335.5,"v":47.5},{"s":"pH 8","t":336,"v":48.1},{"s":"pH 8","t":336.5,"v":45.9},{"s":"pH 8","t":337,"v":48.2},{"s":"pH 8","t":337.5,"v":48.6},
{"s":"pH 8","t":338,"v":46.6},{"s":"pH 8","t":338.5,"v":47.4},{"s":"pH 8","t":339,"v":45.9},{"s":"pH 8","t":339.5,"v":47.9},{"s":"pH 8","t":340,"v":46.5},{"s":"pH 8","t":340.5,"v":48.0},{"s":"pH 8","t":341,"v":45.5},{"s":"pH 8","t":341.5,"v":46.5},{"s":"pH 8","t":342,"v":46.7},{"s":"pH 8","t":342.5,"v":44.7},
{"s":"pH 8","t":343,"v":46.9},{"s":"pH 8","t":343.5,"v":45.2},{"s":"pH 8","t":344,"v":45.5},{"s":"pH 8","t":344.5,"v":46.1},{"s":"pH 8","t":345,"v":44.4},{"s":"pH 8","t":345.5,"v":46.2},{"s":"pH 8","t":346,"v":43.2},{"s":"pH 8","t":346.5,"v":44.9},{"s":"pH 8","t":347,"v":45.1},{"s":"pH 8","t":347.5,"v":43.5},
{"s":"pH 8","t":348,"v":42.4},{"s":"pH 8","t":348.5,"v":42.7},{"s":"pH 8","t":349,"v":41.9},{"s":"pH 8","t":349.5,"v":40.0},{"s":"pH 8","t":350,"v":39.1},{"s":"pH 8","t":350.5,"v":36.4},{"s":"pH 8","t":351,"v":31.8},{"s":"pH 8","t":351.5,"v":27.7},{"s":"pH 8","t":352,"v":25.5},{"s":"pH 8","t":352.5,"v":22.7},
{"s":"pH 8","t":353,"v":19.3},{"s":"pH 8","t":353.5,"v":16.9},{"s":"pH 8","t":354,"v":14.5},{"s":"pH 8","t":354.5,"v":13.0},{"s":"pH 8","t":355,"v":11.9},{"s":"pH 8","t":355.5,"v":11.0},{"s":"pH 8","t":356,"v":9.8},{"s":"pH 8","t":356.5,"v":10.0},{"s":"pH 8","t":357,"v":10.3},{"s":"pH 8","t":357.5,"v":8.7},
{"s":"pH 8","t":358,"v":9.4},{"s":"pH 8","t":358.5,"v":7.9},{"s":"pH 8","t":359,"v":8.5},{"s":"pH 8","t":359.5,"v":9.1},{"s":"pH 8","t":360,"v":7.7},{"s":"pH 8","t":360.5,"v":8.6},{"s":"pH 8","t":361,"v":7.8},{"s":"pH 8","t":361.5,"v":9.2},{"s":"pH 8","t":362,"v":7.5},{"s":"pH 8","t":362.5,"v":9.0},
{"s":"pH 8","t":363,"v":7.5}
],
"mA":[
{"s":"pH 12","t":300,"v":-2.95},{"s":"pH 12","t":314,"v":-3.05},{"s":"pH 12","t":328,"v":-2.88},{"s":"pH 12","t":342,"v":-2.85},{"s":"pH 12","t":356,"v":-2.48},
{"s":"pH 3","t":300,"v":-3.95},{"s":"pH 3","t":314,"v":-4.0},{"s":"pH 3","t":328,"v":-3.8},{"s":"pH 3","t":342,"v":-3.65},{"s":"pH 3","t":356,"v":-3.35},
{"s":"pH 8","t":300,"v":-4.8},{"s":"pH 8","t":314,"v":-4.7},{"s":"pH 8","t":328,"v":-4.55},{"s":"pH 8","t":342,"v":-4.3},{"s":"pH 8","t":356,"v":-0.45}
],
"mB":[
{"s":"pH 12","t":300,"v":47.5},{"s":"pH 12","t":314,"v":46.5},{"s":"pH 12","t":328,"v":45.5},{"s":"pH 12","t":342,"v":45.0},{"s":"pH 12","t":356,"v":39.5},
{"s":"pH 3","t":300,"v":56.5},{"s":"pH 3","t":314,"v":54.2},{"s":"pH 3","t":328,"v":48.5},{"s":"pH 3","t":342,"v":47.5},{"s":"pH 3","t":356,"v":48.7},
{"s":"pH 8","t":300,"v":55.0},{"s":"pH 8","t":314,"v":51.5},{"s":"pH 8","t":328,"v":48.5},{"s":"pH 8","t":342,"v":46.5},{"s":"pH 8","t":356,"v":10.0}
]
},
"vconcat":[
{
"width":507,"height":293,
"resolve":{"scale":{"x":"independent","y":"independent","shape":"independent","fill":"independent","stroke":"independent","size":"independent"},"legend":{"shape":"independent","fill":"independent","stroke":"independent"}},
"layer":[
{"data":{"name":"A"},"mark":{"type":"line","strokeWidth":1},
"encoding":{
"x":{"field":"t","type":"quantitative","scale":{"domain":[290,370],"nice":false,"zero":false},
"axis":{"orient":"bottom","values":[290,292,294,296,298,300,302,304,306,308,310,312,314,316,318,320,322,324,326,328,330,332,334,336,338,340,342,344,346,348,350,352,354,356,358,360,362,364,366,368,370],"format":"d","labelExpr":"datum.value % 10 === 0 ? datum.label : ''","tickSize":-7,"labelPadding":21,"title":"Temperature (K)","titlePadding":10,"encode":{"ticks":{"update":{"y2":{"signal":"datum.value % 10 === 0 ? -7 : -4"}}}}}},
"y":{"field":"v","type":"quantitative","scale":{"domain":[-6,0],"nice":false,"zero":false},
"axis":{"orient":"left","values":[-6,-5.8,-5.6,-5.4,-5.2,-5,-4.8,-4.6,-4.4,-4.2,-4,-3.8,-3.6,-3.4,-3.2,-3,-2.8,-2.6,-2.4,-2.2,-2,-1.8,-1.6,-1.4,-1.2,-1,-0.8,-0.6,-0.4,-0.2,0],"labelExpr":"abs(datum.value - round(datum.value)) < 0.001 ? (datum.value < -0.001 ? '-' : '') + format(abs(datum.value), '.1f') : ''","tickSize":-7,"labelPadding":19,"title":"Raw ellipticity (mdeg)","titlePadding":24,"encode":{"ticks":{"update":{"x2":{"signal":"abs(datum.value - round(datum.value)) < 0.001 ? 7 : 4"}}}}}},
"detail":{"field":"s"},
"color":{"field":"s","type":"nominal","scale":{"domain":["pH 3","pH 8","pH 12"],"range":["#3e3e3e","#5c5c5c","#6a6a6a"]},"legend":null}
}},
{"data":{"name":"mA"},"mark":{"type":"point","filled":true,"strokeWidth":1,"opacity":1},
"encoding":{
"x":{"field":"t","type":"quantitative","scale":{"domain":[290,370],"nice":false,"zero":false},
"axis":{"orient":"top","values":[290,292,294,296,298,300,302,304,306,308,310,312,314,316,318,320,322,324,326,328,330,332,334,336,338,340,342,344,346,348,350,352,354,356,358,360,362,364,366,368,370],"labels":false,"title":null,"tickSize":-7,"encode":{"ticks":{"update":{"y2":{"signal":"datum.value % 10 === 0 ? 7 : 4"}}}}}},
"y":{"field":"v","type":"quantitative","scale":{"domain":[-6,0],"nice":false,"zero":false},
"axis":{"orient":"right","values":[-6,-5.8,-5.6,-5.4,-5.2,-5,-4.8,-4.6,-4.4,-4.2,-4,-3.8,-3.6,-3.4,-3.2,-3,-2.8,-2.6,-2.4,-2.2,-2,-1.8,-1.6,-1.4,-1.2,-1,-0.8,-0.6,-0.4,-0.2,0],"labels":false,"title":null,"tickSize":-7,"encode":{"ticks":{"update":{"x2":{"signal":"abs(datum.value - round(datum.value)) < 0.001 ? -7 : -4"}}}}}},
"shape":{"field":"s","type":"nominal","scale":{"domain":["pH 3","pH 12","pH 8"],"range":["square","square","circle"]},"legend":null},
"fill":{"field":"s","type":"nominal","scale":{"domain":["pH 3","pH 8","pH 12"],"range":["#000000","#ffffff","#ffffff"]},"legend":null},
"stroke":{"field":"s","type":"nominal","scale":{"domain":["pH 8","pH 12","pH 3"],"range":["#707070","#707070","#000000"]},"legend":null},
"size":{"field":"s","type":"ordinal","scale":{"domain":["pH 12","pH 8","pH 3"],"range":[60,40,80]},"legend":null}
}},
{"data":{"name":"mA"},"mark":{"type":"point","filled":true,"opacity":0},
"encoding":{
"x":{"field":"t","type":"quantitative","scale":{"domain":[290,370],"nice":false,"zero":false},"axis":null},
"y":{"field":"v","type":"quantitative","scale":{"domain":[-6,0],"nice":false,"zero":false},"axis":null},
"shape":{"field":"s","type":"nominal","scale":{"domain":["pH 12","pH 3","pH 8"],"range":["M-4.7,0H-0.7M0.7,0H4.7M-0.7,-0.7H0.7V0.7H-0.7Z","M-4.7,0H-0.85M0.85,0H4.7M-0.85,-0.85H0.85V0.85H-0.85Z","M-4.7,0H-0.6M0.6,0H4.7M0.6,0A0.6,0.6 0 1,1 -0.6,0A0.6,0.6 0 1,1 0.6,0Z"]},
"legend":{"title":null,"orient":"none","legendX":33,"legendY":10,"symbolSize":100,"symbolStrokeWidth":1,"symbolOpacity":1}},
"fill":{"field":"s","type":"nominal","scale":{"domain":["pH 12","pH 3","pH 8"],"range":["#ffffff","#000000","#ffffff"]},
"legend":{"title":null,"orient":"none","legendX":33,"legendY":10,"symbolSize":100,"symbolStrokeWidth":1,"symbolOpacity":1}},
"stroke":{"field":"s","type":"nominal","scale":{"domain":["pH 12","pH 3","pH 8"],"range":["#707070","#606060","#707070"]},
"legend":{"title":null,"orient":"none","legendX":33,"legendY":10,"symbolSize":100,"symbolStrokeWidth":1,"symbolOpacity":1}}
}},
{"data":{"values":[{"lab":"(A)","t":365,"v":-5.49}]},"mark":{"type":"text","fontSize":24,"font":"Liberation Sans","color":"#222","align":"center","baseline":"middle"},
"encoding":{
"x":{"field":"t","type":"quantitative","scale":{"domain":[290,370],"nice":false,"zero":false},"axis":null},
"y":{"field":"v","type":"quantitative","scale":{"domain":[-6,0],"nice":false,"zero":false},"axis":null},
"text":{"field":"lab"}
}}
]
},
{
"width":507,"height":293,
"resolve":{"scale":{"x":"independent","y":"independent","shape":"independent","fill":"independent","stroke":"independent","size":"independent"},"legend":{"shape":"independent","fill":"independent","stroke":"independent"}},
"layer":[
{"data":{"name":"B"},"mark":{"type":"line","strokeWidth":1},
"encoding":{
"x":{"field":"t","type":"quantitative","scale":{"domain":[290,370],"nice":false,"zero":false},
"axis":{"orient":"bottom","values":[290,292,294,296,298,300,302,304,306,308,310,312,314,316,318,320,322,324,326,328,330,332,334,336,338,340,342,344,346,348,350,352,354,356,358,360,362,364,366,368,370],"format":"d","labelExpr":"datum.value % 10 === 0 ? datum.label : ''","tickSize":-7,"labelPadding":21,"title":"Temperature (K)","titlePadding":7,"encode":{"ticks":{"update":{"y2":{"signal":"datum.value % 10 === 0 ? -7 : -4"}}}}}},
"y":{"field":"v","type":"quantitative","scale":{"domain":[0,60],"nice":false,"zero":false},
"axis":{"orient":"left","values":[0,2,4,6,8,10,12,14,16,18,20,22,24,26,28,30,32,34,36,38,40,42,44,46,48,50,52,54,56,58,60],"labelExpr":"datum.value % 10 === 0 ? (datum.value === 0 ? '0.0' : format(datum.value, 'd')) : ''","tickSize":-7,"labelPadding":19,"title":"Fluorescence (a.u.)","titlePadding":24,"encode":{"ticks":{"update":{"x2":{"signal":"datum.value % 10 === 0 ? 7 : 4"}}}}}},
"detail":{"field":"s"},
"color":{"field":"s","type":"nominal","scale":{"domain":["pH 3","pH 8","pH 12"],"range":["#333333","#555555","#6a6a6a"]},"legend":null}
}},
{"data":{"name":"mB"},"mark":{"type":"point","filled":true,"strokeWidth":1,"opacity":1},
"encoding":{
"x":{"field":"t","type":"quantitative","scale":{"domain":[290,370],"nice":false,"zero":false},
"axis":{"orient":"top","values":[290,292,294,296,298,300,302,304,306,308,310,312,314,316,318,320,322,324,326,328,330,332,334,336,338,340,342,344,346,348,350,352,354,356,358,360,362,364,366,368,370],"labels":false,"title":null,"tickSize":-7,"encode":{"ticks":{"update":{"y2":{"signal":"datum.value % 10 === 0 ? 7 : 4"}}}}}},
"y":{"field":"v","type":"quantitative","scale":{"domain":[0,60],"nice":false,"zero":false},
"axis":{"orient":"right","values":[0,2,4,6,8,10,12,14,16,18,20,22,24,26,28,30,32,34,36,38,40,42,44,46,48,50,52,54,56,58,60],"labels":false,"title":null,"tickSize":-7,"encode":{"ticks":{"update":{"x2":{"signal":"datum.value % 10 === 0 ? -7 : -4"}}}}}},
"shape":{"field":"s","type":"nominal","scale":{"domain":["pH 3","pH 12","pH 8"],"range":["square","square","circle"]},"legend":null},
"fill":{"field":"s","type":"nominal","scale":{"domain":["pH 3","pH 8","pH 12"],"range":["#000000","#ffffff","#ffffff"]},"legend":null},
"stroke":{"field":"s","type":"nominal","scale":{"domain":["pH 8","pH 12","pH 3"],"range":["#707070","#707070","#000000"]},"legend":null},
"size":{"field":"s","type":"ordinal","scale":{"domain":["pH 12","pH 8","pH 3"],"range":[60,40,80]},"legend":null}
}},
{"data":{"name":"mB"},"mark":{"type":"point","filled":true,"opacity":0},
"encoding":{
"x":{"field":"t","type":"quantitative","scale":{"domain":[290,370],"nice":false,"zero":false},"axis":null},
"y":{"field":"v","type":"quantitative","scale":{"domain":[0,60],"nice":false,"zero":false},"axis":null},
"shape":{"field":"s","type":"nominal","scale":{"domain":["pH 12","pH 3","pH 8"],"range":["M-4.7,0H-0.7M0.7,0H4.7M-0.7,-0.7H0.7V0.7H-0.7Z","M-4.7,0H-0.85M0.85,0H4.7M-0.85,-0.85H0.85V0.85H-0.85Z","M-4.7,0H-0.6M0.6,0H4.7M0.6,0A0.6,0.6 0 1,1 -0.6,0A0.6,0.6 0 1,1 0.6,0Z"]},
"legend":{"title":null,"orient":"none","legendX":44,"legendY":153,"symbolSize":100,"symbolStrokeWidth":1,"symbolOpacity":1}},
"fill":{"field":"s","type":"nominal","scale":{"domain":["pH 12","pH 3","pH 8"],"range":["#ffffff","#000000","#ffffff"]},
"legend":{"title":null,"orient":"none","legendX":44,"legendY":153,"symbolSize":100,"symbolStrokeWidth":1,"symbolOpacity":1}},
"stroke":{"field":"s","type":"nominal","scale":{"domain":["pH 12","pH 3","pH 8"],"range":["#707070","#606060","#707070"]},
"legend":{"title":null,"orient":"none","legendX":44,"legendY":153,"symbolSize":100,"symbolStrokeWidth":1,"symbolOpacity":1}}
}},
{"data":{"values":[{"lab":"(B)","t":365,"v":5.0}]},"mark":{"type":"text","fontSize":24,"font":"Liberation Sans","color":"#222","align":"center","baseline":"middle"},
"encoding":{
"x":{"field":"t","type":"quantitative","scale":{"domain":[290,370],"nice":false,"zero":false},"axis":null},
"y":{"field":"v","type":"quantitative","scale":{"domain":[0,60],"nice":false,"zero":false},"axis":null},
"text":{"field":"lab"}
}}
]
}
]
}
